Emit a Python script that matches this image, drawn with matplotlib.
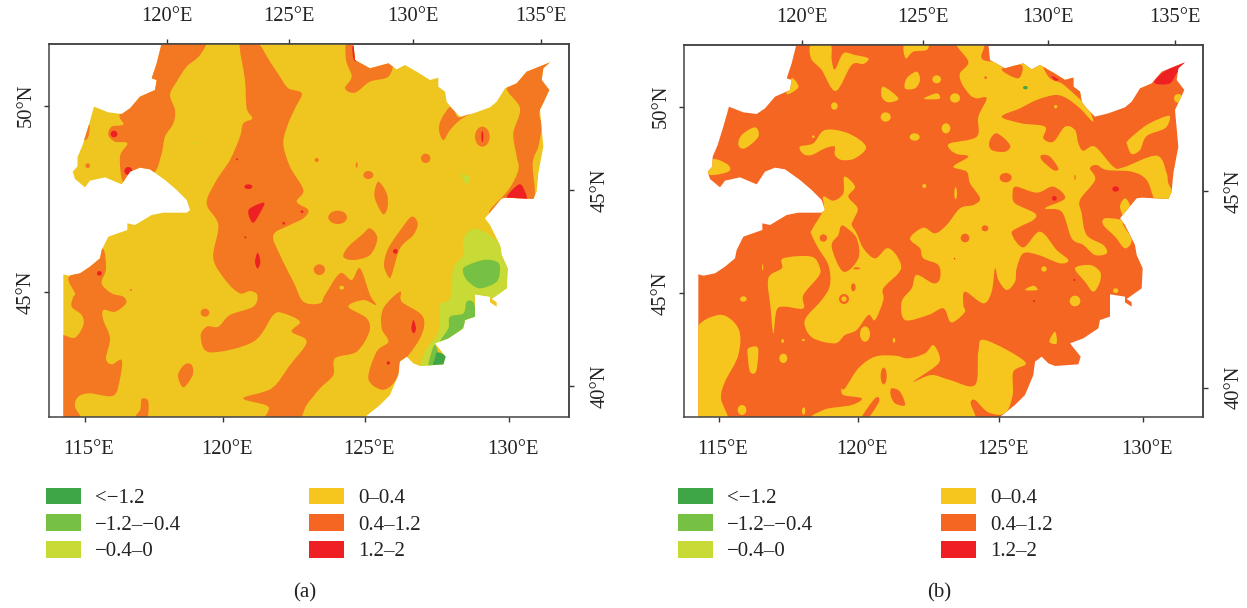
import matplotlib
matplotlib.use("Agg")
import matplotlib.pyplot as plt
from matplotlib.patches import Ellipse, PathPatch, Patch
from matplotlib.path import Path
from matplotlib.transforms import ScaledTranslation

# Classes and colours
class_labels = ["<\u22121.2", "\u22121.2\u2013\u22120.4", "\u22120.4\u20130", "0\u20130.4", "0.4\u20131.2", "1.2\u20132"]
class_colors = ["#3fa648", "#76c043", "#c8da35", "#f6c51e", "#f56622", "#ee2024"]

# Tick labels
bottom_labels = ["115\u00b0E", "120\u00b0E", "125\u00b0E", "130\u00b0E"]
top_labels = ["120\u00b0E", "125\u00b0E", "130\u00b0E", "135\u00b0E"]
left_labels = ["50\u00b0N", "45\u00b0N"]
right_labels = ["45\u00b0N", "40\u00b0N"]

# Graticule positions in map units
a_bottom = [135, 550, 975, 1407]
a_top = [382, 748, 1120, 1503]
a_left = [227, 787]
a_right = [480, 1068]
b_bottom = [132, 548, 972, 1404]
b_top = [380, 745, 1118, 1501]
b_left = [230, 790]
b_right = [483, 1073]

# Region outline, map units
outline = [
    (365, 40), (350, 100), (335, 145), (350, 150), (345, 180), (300, 200), (270, 235), (245, 252), (205, 247),
    (162, 230), (145, 290), (128, 345), (113, 380), (112, 410), (98, 425), (105, 447), (135, 472), (150, 452),
    (195, 442), (245, 463), (270, 425), (300, 413), (330, 418), (375, 450), (410, 480), (440, 510), (450, 540),
    (440, 548), (370, 548), (335, 555), (285, 585), (262, 580), (262, 600), (205, 620), (185, 660), (180, 685),
    (150, 710), (120, 730), (85, 737), (70, 733), (70, 1161), (975, 1161), (1020, 1125), (1050, 1095), (1075, 1035),
    (1080, 995), (1100, 980), (1120, 1000), (1140, 1008), (1210, 1003), (1217, 980), (1185, 940), (1225, 925),
    (1270, 895), (1275, 870), (1305, 860), (1305, 793), (1350, 800), (1350, 817), (1370, 830), (1370, 817),
    (1355, 807), (1400, 775), (1403, 715), (1385, 675), (1380, 645), (1350, 585), (1335, 565), (1385, 505),
    (1400, 503), (1480, 507), (1490, 485), (1495, 430), (1510, 350), (1500, 240), (1528, 180), (1505, 150),
    (1510, 115), (1530, 97), (1460, 125), (1430, 160), (1395, 175), (1370, 215), (1350, 232), (1300, 250),
    (1260, 260), (1235, 235), (1220, 215), (1215, 185), (1195, 170), (1195, 143), (1170, 150), (1130, 125),
    (1095, 105), (1070, 118), (1045, 100), (990, 115), (945, 90), (940, 40),
]

# Panel (a): yellow is the base class
a_orange = [
    [(350, 30), (490, 30), (480, 75), (440, 110), (410, 155), (390, 195), (405, 240), (400, 280), (375, 320),
     (365, 370), (340, 430), (270, 440), (248, 455), (240, 380), (262, 340), (225, 335), (205, 315), (215, 290),
     (250, 283), (240, 250), (300, 180), (340, 100)],
    [(600, 35), (650, 35), (690, 95), (720, 140), (745, 175), (785, 190), (765, 235), (745, 280), (730, 340),
     (750, 410), (790, 480), (770, 515), (805, 540), (790, 565), (750, 585), (700, 615), (720, 675), (760, 755),
     (790, 815), (840, 820), (855, 795), (900, 730), (935, 750), (960, 715), (990, 795), (1008, 825), (970, 810),
     (925, 830), (980, 865), (988, 905), (950, 965), (885, 985), (880, 1035), (840, 1075), (800, 1125), (770, 1175),
     (675, 1175), (685, 1130), (610, 1105), (695, 1075), (750, 1005), (800, 935), (755, 905), (780, 875), (730, 850),
     (700, 855), (640, 935), (510, 967), (482, 920), (500, 890), (535, 890), (570, 855), (640, 830), (652, 795),
     (630, 783), (600, 790), (560, 755), (520, 685), (535, 585), (500, 520), (530, 450), (570, 390), (600, 320),
     (610, 280), (637, 265), (620, 235), (615, 150)],
    [(185, 655), (198, 715), (185, 760), (215, 790), (250, 800), (258, 820), (225, 845), (190, 840), (190, 870),
     (210, 925), (198, 985), (215, 1003), (245, 990), (240, 1045), (220, 1097), (150, 1090), (115, 1100), (105, 1130),
     (125, 1175), (50, 1175), (50, 915), (70, 915), (105, 923), (130, 885), (125, 855), (95, 830), (100, 800),
     (105, 790), (85, 745), (120, 720)],
    [(305, 1107), (325, 1115), (318, 1175), (275, 1175), (300, 1140)],
    [(435, 1003), (455, 1005), (458, 1035), (430, 1072), (414, 1035)],
    [(1015, 455), (1040, 490), (1043, 530), (1030, 553), (1010, 520), (1003, 490)],
    [(1115, 560), (1133, 580), (1120, 615), (1080, 655), (1055, 735), (1045, 740), (1032, 705), (1045, 655), (1085, 595)],
    [(990, 595), (1012, 625), (990, 675), (940, 690), (910, 680), (925, 650), (965, 615)],
    [(1080, 785), (1085, 815), (1140, 850), (1153, 880), (1140, 925), (1102, 980), (1080, 995), (1075, 1035),
     (1050, 1070), (1020, 1078), (985, 1045), (1010, 965), (1045, 935), (1025, 895), (1030, 835)],
    [(920, 30), (918, 90), (935, 140), (915, 175), (945, 188), (990, 155), (1045, 140), (1055, 95), (990, 95), (950, 70), (950, 30)],
    [(1235, 228), (1255, 262), (1295, 248), (1260, 270), (1230, 300), (1210, 330), (1197, 300), (1205, 265)],
    [(1400, 170), (1440, 235), (1420, 310), (1430, 380), (1435, 420), (1405, 480), (1350, 540), (1355, 560), (1385, 515),
     (1400, 515), (1480, 515), (1478, 400), (1495, 350), (1505, 290), (1500, 240), (1545, 170), (1545, 85), (1470, 115)],
    [(148, 285), (145, 320), (133, 330), (125, 300)],
]
a_orange_dots = [
    (143, 407, 7, 7), (830, 390, 6, 6), (495, 848, 13, 12), (838, 719, 17, 16), (893, 562, 28, 20),
    (985, 435, 15, 12), (1157, 385, 14, 14), (1327, 320, 22, 30), (950, 405, 3, 8),
]
a_yellow_dots = [(905, 773, 7, 6)]
a_red = [
    [(630, 535), (672, 518), (662, 545), (640, 578), (626, 555)],
    [(937, 52), (945, 52), (948, 92), (940, 85)],
    [(1400, 505), (1437, 463), (1455, 485), (1457, 512)],
    [(653, 668), (661, 695), (653, 716), (645, 695)],
    [(1120, 870), (1128, 895), (1121, 910), (1114, 895)],
]
a_red_dots = [
    (222, 312, 10, 10), (265, 423, 12, 12), (625, 470, 12, 7), (786, 545, 4, 4), (731, 580, 4, 4), (591, 388, 3, 3),
    (1327, 320, 3, 17), (178, 730, 7, 7), (616, 622, 3, 3), (273, 780, 2, 2), (1066, 664, 7, 7), (1045, 999, 5, 5),
]
a_light = [
    [(1275, 435), (1290, 440), (1280, 465), (1262, 430)],
    [(1300, 597), (1340, 610), (1385, 650), (1405, 715), (1405, 775), (1350, 805), (1305, 800), (1305, 865), (1270, 895),
     (1225, 930), (1185, 945), (1215, 1005), (1140, 1010), (1140, 1005), (1160, 955), (1195, 905), (1200, 825),
     (1230, 805), (1240, 715), (1270, 675), (1270, 625)],
]
a_light_dots = [(465, 340, 4, 4)]
a_mid = [
    [(1275, 710), (1330, 690), (1370, 695), (1380, 715), (1370, 755), (1320, 775), (1285, 755), (1270, 730)],
    [(1280, 815), (1300, 817), (1307, 860), (1280, 875), (1260, 905), (1225, 930), (1200, 935), (1225, 895), (1230, 860), (1270, 850)],
    [(1185, 945), (1195, 975), (1185, 1005), (1165, 1010), (1175, 965)],
]
a_dark = [[(1192, 967), (1218, 980), (1210, 1005), (1180, 1005), (1185, 985)]]

# Panel (b): orange is the base class
b_yellow = [
    [(845, 40), (880, 95), (855, 130), (860, 160), (885, 195), (905, 205), (935, 205), (910, 260), (905, 320),
     (825, 340), (825, 358), (845, 372), (880, 380), (835, 410), (875, 425), (885, 460), (915, 505), (895, 525),
     (855, 535), (815, 585), (780, 610), (745, 593), (705, 625), (735, 655), (745, 685), (790, 705), (795, 745),
     (775, 760), (725, 735), (710, 775), (680, 815), (690, 870), (760, 855), (805, 835), (825, 875), (845, 870),
     (870, 845), (865, 825), (870, 785), (925, 820), (950, 785), (960, 715), (970, 750), (995, 780), (1020, 755),
     (1025, 715), (1045, 670), (1090, 675), (1155, 700), (1180, 690), (1145, 660), (1095, 605), (1045, 652),
     (1010, 610), (1035, 590), (1075, 570), (1080, 550), (1020, 520), (1013, 490), (1023, 470), (1085, 488),
     (1135, 470), (1170, 505), (1110, 535), (1160, 545), (1190, 625), (1225, 645), (1260, 675), (1295, 670),
     (1285, 645), (1235, 615), (1220, 550), (1215, 510), (1260, 450), (1245, 415), (1265, 405), (1295, 420),
     (1370, 425), (1415, 450), (1440, 510), (1475, 520), (1500, 500), (1480, 460), (1475, 430), (1445, 377),
     (1345, 412), (1315, 410), (1260, 350), (1225, 362), (1210, 340), (1200, 300), (1170, 290), (1135, 335),
     (1105, 325), (1110, 290), (1040, 280), (980, 260), (1035, 235), (1085, 210), (1140, 195), (1175, 205),
     (1215, 235), (1255, 275), (1230, 210), (1195, 140), (1115, 105), (1040, 95), (925, 90), (925, 40)],
    [(410, 40), (465, 40), (470, 90), (480, 118), (505, 70), (540, 75), (580, 85), (565, 102), (530, 105), (482, 183), (440, 120), (408, 85)],
    [(690, 40), (755, 40), (755, 60), (715, 65), (692, 85)],
    [(725, 125), (735, 150), (720, 175), (690, 175), (695, 145)],
    [(625, 170), (670, 205), (640, 217), (620, 200)],
    [(747, 205), (785, 190), (795, 205), (770, 208)],
    [(240, 292), (250, 320), (210, 355), (190, 345), (200, 315)],
    [(118, 387), (160, 405), (160, 425), (105, 435), (100, 410)],
    [(350, 145), (370, 172), (335, 192)],
    [(375, 350), (415, 340), (450, 300), (520, 310), (573, 350), (540, 385), (500, 390), (480, 375), (478, 350), (450, 355), (410, 375), (385, 372)],
    [(508, 440), (540, 470), (520, 500), (548, 535), (535, 570), (530, 585), (545, 610), (565, 655), (600, 685),
     (635, 655), (660, 670), (678, 705), (670, 730), (625, 775), (625, 810), (600, 870), (580, 855), (545, 900),
     (510, 915), (480, 940), (415, 925), (390, 890), (395, 860), (440, 810), (465, 765), (460, 705), (430, 655),
     (410, 615), (410, 600), (445, 540), (445, 500), (475, 512), (505, 490)],
    [(130, 855), (190, 895), (190, 975), (150, 1055), (138, 1105), (155, 1175), (50, 1175), (50, 925)],
    [(325, 685), (410, 680), (435, 715), (430, 740), (385, 795), (385, 835), (330, 830), (305, 840), (295, 910), (287, 835), (280, 745), (320, 715)],
    [(220, 955), (245, 950), (250, 970), (243, 1025), (225, 1025), (218, 975)],
    [(510, 1075), (550, 1015), (600, 980), (660, 977), (700, 985), (750, 970), (775, 945), (795, 985), (780, 1010),
     (715, 1055), (770, 1035), (825, 1050), (900, 1065), (910, 965), (930, 930), (1050, 995), (1015, 1025), (1013, 1095),
     (990, 1150), (940, 1147), (900, 1110), (887, 1120), (900, 1155), (895, 1175), (440, 1175), (445, 1140), (530, 1125),
     (560, 1105), (505, 1095), (500, 1075)],
    [(1285, 585), (1320, 620), (1350, 655), (1370, 630), (1345, 585), (1340, 570), (1290, 565)],
    [(1350, 505), (1365, 530), (1350, 565), (1335, 530)],
    [(1360, 330), (1415, 285), (1475, 258), (1485, 265), (1470, 295), (1415, 318), (1395, 360), (1370, 372), (1357, 345)],
    [(1050, 780), (1075, 767), (1087, 780)],
    [(1140, 905), (1145, 940), (1123, 935)],
    [(1200, 715), (1245, 705), (1275, 725), (1275, 755), (1255, 785), (1230, 755)],
]
b_yellow_dots = [
    (785, 148, 13, 12), (840, 204, 15, 14), (478, 228, 10, 11), (632, 261, 15, 14), (813, 295, 13, 15), (719, 321, 15, 11),
    (748, 468, 6, 6), (842, 490, 4, 18), (205, 807, 10, 8), (263, 712, 2, 9), (325, 985, 12, 14), (323, 933, 4, 6),
    (385, 930, 5, 3), (570, 912, 15, 23), (657, 931, 4, 7), (201, 1140, 13, 15), (386, 1143, 5, 11), (1142, 230, 5, 5),
    (1510, 205, 13, 13), (1107, 717, 8, 8), (1200, 813, 16, 16), (1322, 782, 8, 7), (415, 320, 4, 4),
]
b_orange = [
    [(497, 590), (490, 615), (470, 650), (505, 725), (550, 685), (545, 625), (510, 590)],
    [(650, 1075), (675, 1085), (690, 1125), (660, 1120), (647, 1095)],
    [(600, 1105), (612, 1115), (575, 1170), (555, 1170)],
    [(965, 310), (1005, 345), (990, 365), (950, 360), (943, 335)],
    [(1100, 375), (1125, 380), (1150, 415), (1135, 420), (1100, 390)],
    [(980, 118), (1040, 105), (1030, 145)],
    [(1105, 110), (1130, 125), (1200, 145), (1228, 215), (1190, 185), (1160, 160), (1125, 145)],
]
b_orange_dots = [
    (445, 624, 11, 11), (545, 715, 10, 3), (535, 772, 7, 12), (507, 807, 15, 15), (626, 1038, 9, 25), (992, 443, 18, 14),
    (1200, 442, 2, 8), (930, 595, 10, 9), (870, 624, 13, 13), (932, 143, 4, 4), (477, 350, 2, 2),
]
b_inner_dots = [(507, 807, 8, 8)]
b_red = [
    [(1440, 150), (1475, 120), (1530, 97), (1505, 130), (1485, 160), (1445, 162)],
    [(1130, 138), (1150, 148), (1140, 152)],
]
b_red_dots = [(1322, 477, 10, 8), (1138, 505, 7, 7), (1198, 750, 3, 3), (1077, 813, 3, 3), (839, 686, 2, 2)]
b_mid_dots = [(1051, 173, 7, 5)]


def smooth_path(points):
    # closed cubic curve that passes through every traced point
    n = len(points)
    verts = [points[0]]
    codes = [Path.MOVETO]
    for i in range(n):
        x0, y0 = points[i - 1]
        x1, y1 = points[i]
        x2, y2 = points[(i + 1) % n]
        x3, y3 = points[(i + 2) % n]
        verts += [(x1 + (x2 - x0) / 6, y1 + (y2 - y0) / 6), (x2 - (x3 - x1) / 6, y2 - (y3 - y1) / 6), (x2, y2)]
        codes += [Path.CURVE4, Path.CURVE4, Path.CURVE4]
    return Path(verts, codes)


def add_shapes(ax, clip, shapes, color):
    for shape in shapes:
        patch = PathPatch(smooth_path(shape), facecolor=color, edgecolor="none")
        ax.add_patch(patch)
        patch.set_clip_path(clip)


def add_dots(ax, clip, dots, color):
    for x, y, rx, ry in dots:
        patch = Ellipse((x, y), 2 * rx, 2 * ry, facecolor=color, edgecolor="none")
        ax.add_patch(patch)
        patch.set_clip_path(clip)


def draw_frame(ax, bottom, top, left, right, xlim, ylim):
    ax.set_xlim(*xlim)
    ax.set_ylim(*ylim)
    ax.set_xticks(bottom, bottom_labels)
    ax.set_yticks(left, left_labels, rotation=90, va="center")
    ax.tick_params(axis="x", length=3.6, width=1, color="#333333", pad=13, labelsize=14.8)
    ax.tick_params(axis="y", length=3.6, width=1, color="#333333", pad=6, labelsize=14.8)
    for label in ax.get_xticklabels():
        label.set_transform(label.get_transform() + ScaledTranslation(4 / 100, 0, ax.figure.dpi_scale_trans))

    ax_top = ax.secondary_xaxis("top")
    ax_top.set_xticks(top, top_labels)
    ax_top.tick_params(length=3.6, width=1, color="#333333", pad=9, labelsize=14.8)
    ax_right = ax.secondary_yaxis("right")
    ax_right.set_yticks(right, right_labels, rotation=90, va="center")
    ax_right.tick_params(length=3.6, width=1, color="#333333", pad=12, labelsize=14.8)
    for spine in list(ax.spines.values()) + [ax_top.spines["top"], ax_right.spines["right"]]:
        spine.set_linewidth(1.1)
        spine.set_color("#444444")


def draw_legend(ax, anchor_x):
    handles = [Patch(facecolor=c, edgecolor="none") for c in class_colors]
    ax.legend(handles, class_labels, ncol=2, frameon=False, fontsize=15, loc="upper left",
              bbox_to_anchor=(anchor_x, 1 - 487.5 / 608), bbox_transform=ax.figure.transFigure, borderaxespad=0, borderpad=0,
              handlelength=1.68, handleheight=0.865, handletextpad=0.67, labelspacing=0.29, columnspacing=6.15)


plt.rcParams["font.family"] = ["Liberation Serif", "DejaVu Serif"]
plt.rcParams["text.color"] = "#222222"
plt.rcParams["xtick.labelcolor"] = "#222222"
plt.rcParams["ytick.labelcolor"] = "#222222"

fig = plt.figure(figsize=(12.47, 6.08), dpi=100)

# Panel (a)
ax_a = fig.add_axes([49 / 1247, 1 - 417 / 608, 520 / 1247, 373 / 608])
base_a = PathPatch(Path(outline + [outline[0]]), facecolor="#efc61f", edgecolor="none")
ax_a.add_patch(base_a)
add_shapes(ax_a, base_a, a_orange, "#f47721")
add_dots(ax_a, base_a, a_orange_dots, "#f47721")
add_dots(ax_a, base_a, a_yellow_dots, "#efc61f")
add_shapes(ax_a, base_a, a_light, class_colors[2])
add_dots(ax_a, base_a, a_light_dots, class_colors[2])
add_shapes(ax_a, base_a, a_mid, class_colors[1])
add_shapes(ax_a, base_a, a_dark, class_colors[0])
add_shapes(ax_a, base_a, a_red, class_colors[5])
add_dots(ax_a, base_a, a_red_dots, class_colors[5])
draw_frame(ax_a, a_bottom, a_top, a_left, a_right, (27, 1587), (1161, 42))
draw_legend(ax_a, 46 / 1247)

# Panel (b)
ax_b = fig.add_axes([684 / 1247, 1 - 417 / 608, 519 / 1247, 372 / 608])
base_b = PathPatch(Path(outline + [outline[0]]), facecolor=class_colors[4], edgecolor="none")
ax_b.add_patch(base_b)
add_shapes(ax_b, base_b, b_yellow, class_colors[3])
add_dots(ax_b, base_b, b_yellow_dots, class_colors[3])
add_shapes(ax_b, base_b, b_orange, class_colors[4])
add_dots(ax_b, base_b, b_orange_dots, class_colors[4])
add_dots(ax_b, base_b, b_inner_dots, class_colors[3])
add_shapes(ax_b, base_b, b_red, class_colors[5])
add_dots(ax_b, base_b, b_red_dots, class_colors[5])
add_dots(ax_b, base_b, b_mid_dots, class_colors[0])
draw_frame(ax_b, b_bottom, b_top, b_left, b_right, (27, 1584), (1161, 45))
draw_legend(ax_b, 678 / 1247)

fig.text(305 / 1247, 1 - 593 / 608, "(a)", ha="center", va="center", fontsize=15)
fig.text(939 / 1247, 1 - 593 / 608, "(b)", ha="center", va="center", fontsize=15)

fig.savefig("out.png", dpi=100)
